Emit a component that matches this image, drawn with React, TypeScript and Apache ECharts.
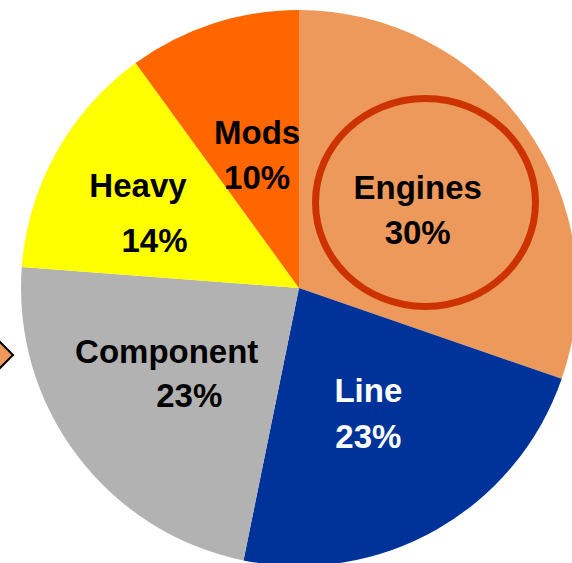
import React, { useEffect, useRef } from "react";
import * as echarts from "echarts";

const categories = ["Engines", "Line", "Component", "Heavy", "Mods"];
const shares = [30.3, 22.9, 23.0, 13.8, 10.0];
const shareLabels = ["30%", "23%", "23%", "14%", "10%"];
const sliceColors = ["#ED995C", "#003399", "#B2B2B2", "#FFFF00", "#FF6600"];
const labelColors = ["#000000", "#FFFFFF", "#000000", "#000000", "#000000"];
const labelShift = [
  [3, 4],
  [-1, 2],
  [-19, 0],
  [-37, -6],
  [2, 2],
];
const pctPadLeft = [0, 0, 45, 33, 0];
const lineHeights = [45, 46, 44, 55, 45];

export default function App() {
  const ref = useRef<HTMLDivElement>(null);
  useEffect(() => {
    if (!ref.current) return;
    const chart = echarts.init(ref.current, undefined, { renderer: "svg" });
    const font = "'Liberation Sans', Arial, sans-serif";
    const data = categories.map((name, i) => ({
      name,
      value: shares[i],
      itemStyle: { color: sliceColors[i] },
      label: {
        formatter: `{n|${name}}\n{p|${shareLabels[i]}}`,
        rich: {
          n: {
            fontSize: 33,
            fontWeight: "bold",
            fontFamily: font,
            color: labelColors[i],
            lineHeight: lineHeights[i],
          },
          p: {
            fontSize: 33,
            fontWeight: "bold",
            fontFamily: font,
            color: labelColors[i],
            lineHeight: lineHeights[i],
            padding: [0, 0, 0, pctPadLeft[i]],
          },
        },
      },
    }));
    chart.setOption({
      animation: false,
      backgroundColor: "#FFFFFF",
      series: [
        {
          type: "pie",
          center: [299, 288],
          radius: [0, 278],
          startAngle: 90,
          clockwise: true,
          avoidLabelOverlap: false,
          label: {
            show: true,
            position: "inside",
            fontSize: 33,
            fontWeight: "bold",
            fontFamily: font,
          },
          labelLine: { show: false },
          emphasis: { disabled: true },
          itemStyle: { borderWidth: 0 },
          labelLayout: (params: any) => ({
            dx: labelShift[params.dataIndex][0],
            dy: labelShift[params.dataIndex][1],
          }),
          data,
        },
      ],
      graphic: [
        {
          type: "ellipse",
          shape: { cx: 425.5, cy: 202.5, rx: 110, ry: 104 },
          style: { fill: "none", stroke: "#CC3300", lineWidth: 7 },
          z: 100,
        },
        {
          type: "polygon",
          shape: {
            points: [
              [-17, 355],
              [-2, 340],
              [13, 355],
              [-2, 370],
            ],
          },
          style: { fill: "#ED995C", stroke: "#000000", lineWidth: 2 },
          z: 100,
        },
      ],
    });
    return () => chart.dispose();
  }, []);
  return (
    <div
      ref={ref}
      style={{ position: "fixed", left: 0, top: 0, width: 572, height: 563 }}
    />
  );
}
